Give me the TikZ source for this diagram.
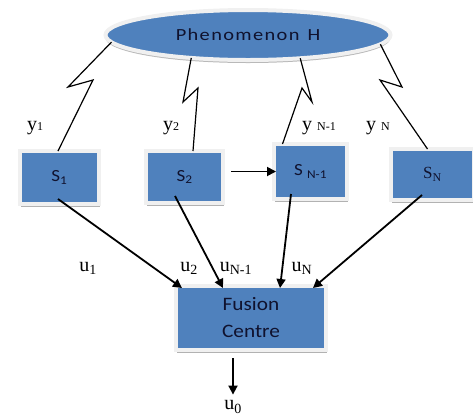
\documentclass[tikz,border=0pt]{standalone}
\usepackage{fontspec}
\setmainfont{Carlito}[FakeStretch=1.12]
\newfontfamily\widefont{Carlito}[FakeStretch=1.2, LetterSpace=8]
\newfontfamily\labfont{Liberation Serif}
\usetikzlibrary{positioning, shapes.geometric, arrows.meta, shadows}

\definecolor{boxblue}{HTML}{4F81BD}
\definecolor{framegray}{HTML}{F0F0F0}
\definecolor{boxtext}{HTML}{10122E}

\tikzset{
    sensorbox/.style={rectangle, draw=framegray, line width=4pt, fill=boxblue, text=boxtext,
        inner sep=0pt, outer sep=0pt,
        drop shadow={shadow xshift=1pt, shadow yshift=-3pt, fill=gray!60, opacity=1},
        font=\fontsize{17}{19}\selectfont},
    phenbox/.style={ellipse, draw=framegray, line width=4pt, fill=boxblue, text=boxtext,
        inner sep=0pt, outer sep=0pt, minimum width=285pt, minimum height=50pt,
        drop shadow={shadow xshift=0pt, shadow yshift=-3pt, fill=gray!55, opacity=1}},
    sig/.style={font=\labfont\fontsize{20}{22}\selectfont, inner sep=0pt},
    arr/.style={->, line width=1.8pt},
    bolt/.style={line width=1.2pt, line join=miter}
}
\newcommand{\sm}[1]{{\fontsize{12}{12}\selectfont #1}}

\begin{document}
\begin{tikzpicture}[x=1pt, y=-1pt, >={Triangle[length=9pt,width=9pt]}]
    \useasboundingbox (0,0) rectangle (473,416);

    \node[phenbox]                                  (phenomenon) at (248,35)    {\widefont\fontsize{17}{19}\selectfont Phenomenon\hspace{8pt}H};
    \node[sensorbox, minimum width=79pt, minimum height=53pt]  (sensor 1)   at (59.5,177.5) {S\textsubscript{1}};
    \node[sensorbox, minimum width=77pt, minimum height=52pt]  (sensor 2)   at (184.5,177)  {S\textsubscript{2}};
    \node[sensorbox, minimum width=73pt, minimum height=55pt]  (sensor n1)  at (310.5,171.5) {S \textsubscript{N-1}};
    \node[sensorbox, minimum width=83pt, minimum height=51pt]  (sensor n)   at (432.5,174.5) {\labfont S\textsubscript{N}};
    \node[sensorbox, minimum width=150pt, minimum height=64pt, align=center,
          font=\fontsize{19}{27}\selectfont]        (fusion)     at (251,318)    {Fusion\\Centre};

    % observations
    \node[sig] (y 1)  at (35,128)  {y\sm{1}};
    \node[sig] (y 2)  at (171,128) {y\sm{2}};
    \node[sig] (y n1) at (319,128) {y \sm{N-1}};
    \node[sig] (y n)  at (378,128) {y \sm{N}};

    % decisions
    \node[sig] (u 1)  at (88,268)  {u\textsubscript{1}};
    \node[sig] (u 2)  at (189,268) {u\textsubscript{2}};
    \node[sig] (u n1) at (236,268) {u\textsubscript{N-1}};
    \node[sig] (u n)  at (302,268) {u\textsubscript{N}};
    \node[sig] (u 0)  at (233,407) {u\textsubscript{0}};

    \draw[bolt] (phenomenon.183) -- (68,87)  -- (93,80)  -- ([xshift=-1.5pt]sensor 1.north);
    \draw[bolt] (phenomenon.202) -- (183,102) -- (198,88) -- ([xshift=8.5pt]sensor 2.north);
    \draw[bolt] (phenomenon.336) -- (312,102) -- (302,88) -- ([xshift=8.5pt]sensor n1.north west);
    \draw[bolt] (phenomenon.356) -- (402,87) -- (380,80) -- ([xshift=-5pt]sensor n.north);

    \draw[arr, shorten <=8pt, shorten >=-2pt] (sensor 2.east |- sensor n1.west) -- (sensor n1.west);

    \draw[arr] ([xshift=-1.5pt,yshift=5pt]sensor 1.south) -- ([xshift=-69pt,yshift=-2pt]fusion.north);
    \draw[arr] ([xshift=-9.5pt,yshift=7pt]sensor 2.south) -- ([xshift=-28pt,yshift=-2pt]fusion.north);
    \draw[arr] ([xshift=-19.5pt,yshift=5pt]sensor n1.south) -- ([xshift=29pt,yshift=-2pt]fusion.north);
    \draw[arr] ([xshift=-10.5pt,yshift=5pt]sensor n.south) -- ([xshift=62pt,yshift=-2pt]fusion.north);

    \draw[arr, shorten <=8pt, shorten >=6pt] ([xshift=-18pt]fusion.south) -- (u 0.north);
\end{tikzpicture}
\end{document}
